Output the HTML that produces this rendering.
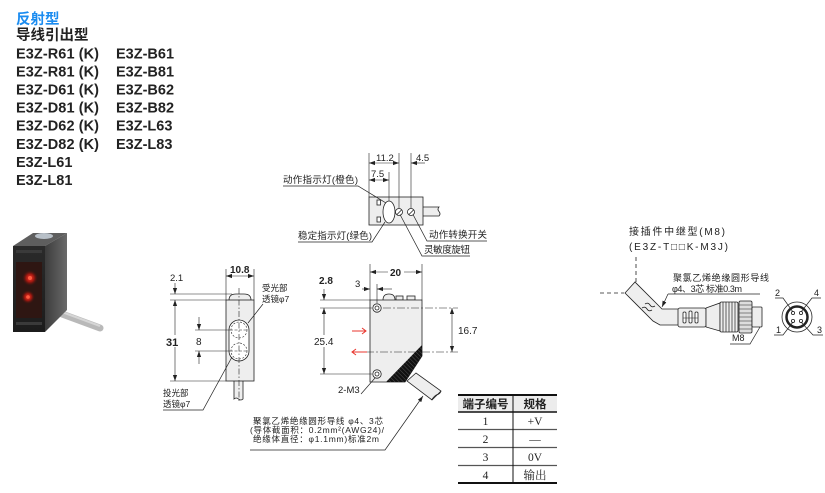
<!DOCTYPE html>
<html><head><meta charset="utf-8">
<style>
html,body{margin:0;padding:0;background:#fff;}
svg{display:block;}
text{font-family:"Liberation Sans","Noto Sans CJK SC",sans-serif;fill:#222;}
.s{font-family:"Liberation Serif","Noto Serif CJK SC",serif;}
</style></head><body>
<svg width="825" height="493" viewBox="0 0 825 493" xmlns="http://www.w3.org/2000/svg">
<defs>
<marker id="a" viewBox="0 0 10 10" refX="10" refY="5" markerWidth="6" markerHeight="6" markerUnits="userSpaceOnUse" orient="auto-start-reverse"><path d="M0,1.5L10,5L0,8.5z" fill="#222"/></marker>
<linearGradient id="side" x1="0" y1="0" x2="1" y2="0"><stop offset="0" stop-color="#3c3c3c"/><stop offset="1" stop-color="#6a6a6a"/></linearGradient>
<linearGradient id="front" x1="0" y1="0" x2="0" y2="1"><stop offset="0" stop-color="#2a2a2a"/><stop offset="1" stop-color="#1c1c1c"/></linearGradient>
<radialGradient id="red1"><stop offset="0" stop-color="#ff3a2a"/><stop offset="0.5" stop-color="#a01810"/><stop offset="1" stop-color="#3a1410" stop-opacity="0"/></radialGradient>
<pattern id="hatch" width="3" height="3" patternUnits="userSpaceOnUse" patternTransform="rotate(-45)"><rect width="3" height="3" fill="#111"/><line x1="0" y1="0" x2="0" y2="3" stroke="#777" stroke-width="0.6"/></pattern>
</defs>

<!-- Titles -->
<text x="16" y="24" font-size="14.5" font-weight="bold" fill="#1b8cf0" style="fill:#1b8cf0">反射型</text>
<text x="16" y="40" font-size="14.5" font-weight="bold">导线引出型</text>
<g font-size="14.5" font-weight="bold">
<text x="16" y="58.3" textLength="83">E3Z-R61 (K)</text>
<text x="16" y="76.4" textLength="83">E3Z-R81 (K)</text>
<text x="16" y="94.5" textLength="83">E3Z-D61 (K)</text>
<text x="16" y="112.6" textLength="83">E3Z-D81 (K)</text>
<text x="16" y="130.7" textLength="83">E3Z-D62 (K)</text>
<text x="16" y="148.8" textLength="83">E3Z-D82 (K)</text>
<text x="16" y="166.9">E3Z-L61</text>
<text x="16" y="185">E3Z-L81</text>
<text x="116" y="58.3">E3Z-B61</text>
<text x="116" y="76.4">E3Z-B81</text>
<text x="116" y="94.5">E3Z-B62</text>
<text x="116" y="112.6">E3Z-B82</text>
<text x="116" y="130.7">E3Z-L63</text>
<text x="116" y="148.8">E3Z-L83</text>
</g>

<!-- Photo -->
<g>
<line x1="62" y1="314" x2="100" y2="328" stroke="#b9b9b9" stroke-width="7" stroke-linecap="round"/>
<line x1="62" y1="312" x2="100" y2="326" stroke="#d6d6d6" stroke-width="2"/>
<polygon points="13,246 33,233 67,233 45,246" fill="#5e5e5e"/>
<ellipse cx="44" cy="236" rx="9" ry="3" fill="#b8c0c8"/>
<polygon points="45,246 67,233 67,310 45,332" fill="url(#side)"/>
<rect x="13" y="246" width="32" height="86" fill="url(#front)"/>
<rect x="16" y="262" width="26" height="56" fill="#2e1612"/>
<circle cx="30" cy="278" r="8" fill="url(#red1)"/>
<circle cx="28" cy="297" r="7" fill="url(#red1)"/>
<circle cx="30" cy="278" r="2" fill="#ff5a40"/>
<circle cx="28" cy="297" r="1.8" fill="#ff5a40"/>
<rect x="16" y="250" width="26" height="3" fill="#3a3a3a"/>
<rect x="16" y="322" width="26" height="3" fill="#3a3a3a"/>
</g>

<g stroke="#222" stroke-width="0.8" fill="none">
<!-- ===== Top view ===== -->
<path d="M423,207H439q-2,2.25 0,4.5t0,4.5H423" fill="#eee"/>
<rect x="369" y="197" width="54" height="28" fill="#eee"/>
<ellipse cx="389" cy="212" rx="6" ry="11" fill="#fff"/>
<rect x="377" y="200" width="3.5" height="5" fill="#fff"/>
<rect x="377" y="217" width="3.5" height="5" fill="#fff"/>
<circle cx="399" cy="212" r="3.5" fill="#fff"/>
<line x1="397" y1="214.5" x2="401.5" y2="210"/>
<circle cx="411" cy="212" r="3.5" fill="#fff"/>
<line x1="409" y1="214.5" x2="413.5" y2="210"/>
<line x1="369" y1="153" x2="369" y2="197" stroke-width="0.6"/>
<line x1="389" y1="172" x2="389" y2="201" stroke-width="0.6"/>
<line x1="399" y1="153" x2="399" y2="208" stroke-width="0.6"/>
<line x1="411" y1="153" x2="411" y2="208" stroke-width="0.6"/>
<line x1="369" y1="163" x2="399" y2="163" stroke-width="0.6" marker-start="url(#a)" marker-end="url(#a)"/>
<line x1="425" y1="163" x2="411" y2="163" stroke-width="0.6" marker-end="url(#a)"/>
<line x1="369" y1="180" x2="389" y2="180" stroke-width="0.6" marker-start="url(#a)" marker-end="url(#a)"/>
<polyline points="283,186 358,186 386,203" stroke-width="0.7"/>
<polyline points="298,242 372,242 385,222" stroke-width="0.7"/>
<polyline points="413,214.5 427,241 487,241" stroke-width="0.7"/>
<polyline points="400,214.5 422,256 470,256" stroke-width="0.7"/>

<!-- ===== Front view ===== -->
<path d="M234,381V399q2.25,-2 4.5,0t4.5,0V381" fill="#eee"/>
<path d="M229,300Q229,294 236,294H244Q251,294 251,300" fill="#eee"/>
<rect x="226" y="300" width="28" height="81" fill="#eee"/>
<rect x="229" y="320" width="20" height="41" rx="10" fill="#fff"/>
<circle cx="239" cy="330" r="8" stroke-dasharray="2,1.5" stroke-width="0.6"/>
<circle cx="239" cy="351" r="8" stroke-dasharray="2,1.5" stroke-width="0.6"/>
<line x1="239" y1="288" x2="239" y2="402" stroke-width="0.6" stroke-dasharray="6,2,1.5,2"/>
<line x1="195" y1="330" x2="230" y2="330" stroke-width="0.6"/>
<line x1="195" y1="351" x2="230" y2="351" stroke-width="0.6"/>
<line x1="230" y1="330" x2="248" y2="330" stroke-width="0.6" stroke-dasharray="3,1.5"/>
<line x1="230" y1="351" x2="248" y2="351" stroke-width="0.6" stroke-dasharray="3,1.5"/>
<line x1="199" y1="317" x2="199" y2="330" stroke-width="0.6" marker-end="url(#a)"/>
<line x1="199" y1="364" x2="199" y2="351" stroke-width="0.6" marker-end="url(#a)"/>
<line x1="226" y1="269" x2="226" y2="300" stroke-width="0.6"/>
<line x1="254" y1="269" x2="254" y2="300" stroke-width="0.6"/>
<line x1="226" y1="276" x2="254" y2="276" stroke-width="0.6" marker-start="url(#a)" marker-end="url(#a)"/>
<line x1="170" y1="294" x2="232" y2="294" stroke-width="0.6"/>
<line x1="170" y1="300" x2="226" y2="300" stroke-width="0.6"/>
<line x1="170" y1="381" x2="226" y2="381" stroke-width="0.6"/>
<line x1="175" y1="283" x2="175" y2="294" stroke-width="0.6" marker-end="url(#a)"/>
<line x1="175" y1="300" x2="175" y2="381" stroke-width="0.6" marker-start="url(#a)" marker-end="url(#a)"/>
<line x1="263" y1="304" x2="248" y2="323" stroke-width="0.7"/>
<polyline points="163,410 203,410 232,357" stroke-width="0.7"/>

<!-- ===== Side view ===== -->
<polygon points="407,381 416,373 441,391 432,400" fill="#eee"/>
<path d="M441,391q-1,3 -3.5,3.5t-6,5.5" fill="none"/>
<path d="M383,300Q383,294 389,294Q395,294 395,300" fill="#eee"/>
<rect x="396" y="296" width="7" height="4" fill="#eee"/>
<rect x="407" y="296" width="8" height="4" fill="#eee"/>
<polygon points="370,300 422,300 422,356 405,382 370,382" fill="#eee"/>
<polygon points="422,345 422,356 405,382 386,382" fill="url(#hatch)" stroke="none"/>
<circle cx="377" cy="308" r="4.2" fill="#fff"/>
<circle cx="377" cy="308" r="2" fill="#fff"/>
<circle cx="377" cy="374" r="4.2" fill="#fff"/>
<circle cx="377" cy="374" r="2" fill="#fff"/>
<line x1="370" y1="264" x2="370" y2="300" stroke-width="0.6"/>
<line x1="422" y1="264" x2="422" y2="300" stroke-width="0.6"/>
<line x1="370" y1="272" x2="422" y2="272" stroke-width="0.6" marker-start="url(#a)" marker-end="url(#a)"/>
<line x1="377" y1="284" x2="377" y2="303" stroke-width="0.6"/>
<line x1="362" y1="289" x2="370" y2="289" stroke-width="0.6" marker-end="url(#a)"/>
<line x1="392" y1="289" x2="377" y2="289" stroke-width="0.6" marker-end="url(#a)"/>
<line x1="320" y1="300" x2="370" y2="300" stroke-width="0.6"/>
<line x1="320" y1="308" x2="372" y2="308" stroke-width="0.6"/>
<line x1="383" y1="308" x2="458" y2="308" stroke-width="0.6" stroke-dasharray="8,2,2,2"/>
<line x1="320" y1="374" x2="372" y2="374" stroke-width="0.6"/>
<line x1="324" y1="289" x2="324" y2="300" stroke-width="0.6" marker-end="url(#a)"/>
<line x1="324" y1="308" x2="324" y2="374" stroke-width="0.6" marker-start="url(#a)" marker-end="url(#a)"/>
<line x1="352" y1="352" x2="458" y2="352" stroke-width="0.6" stroke-dasharray="8,2,2,2"/>
<line x1="452" y1="308" x2="452" y2="352" stroke-width="0.6" marker-start="url(#a)" marker-end="url(#a)"/>
<line x1="361" y1="394" x2="375" y2="378" stroke-width="0.7"/>
<polyline points="250,450 385,450 423,396" stroke-width="0.7" marker-end="url(#a)"/>
</g>
<!-- red arrows -->
<g stroke="#e8342c" stroke-width="1" fill="none">
<line x1="352" y1="331" x2="366" y2="331"/>
<polyline points="362,328 366,331 362,334"/>
<line x1="367" y1="352" x2="352" y2="352"/>
<polyline points="356,349 352,352 356,355"/>
</g>

<!-- Top view labels -->
<g font-size="9.5">
<text x="376" y="161" font-size="9.5">11.2</text>
<text x="416" y="161" font-size="9.5">4.5</text>
<text x="371" y="177" font-size="9.5">7.5</text>
<text x="283" y="183" textLength="75">动作指示灯(橙色)</text>
<text x="298" y="239" textLength="74">稳定指示灯(绿色)</text>
<text x="429" y="238" textLength="58">动作转换开关</text>
<text x="424" y="253" textLength="46">灵敏度旋钮</text>
</g>

<!-- Front view labels -->
<text x="230" y="273" font-size="10" font-weight="bold">10.8</text>
<text x="170" y="281" font-size="9.5">2.1</text>
<rect x="166" y="335" width="15" height="12" fill="#fff"/>
<text x="166" y="346" font-size="11" font-weight="bold">31</text>
<text x="196" y="345" font-size="10">8</text>
<g font-size="8.5">
<text x="262" y="291">受光部</text>
<text x="262" y="302">透镜φ7</text>
<text x="163" y="396">投光部</text>
<text x="163" y="407">透镜φ7</text>
</g>

<!-- Side view labels -->
<rect x="388" y="266" width="16" height="11" fill="#fff"/>
<text x="390" y="276" font-size="10" font-weight="bold">20</text>
<text x="355" y="287" font-size="9.5">3</text>
<text x="319" y="284" font-size="10" font-weight="bold">2.8</text>
<rect x="314" y="335" width="21" height="12" fill="#fff"/>
<text x="314" y="345" font-size="10">25.4</text>
<text x="458" y="334" font-size="10">16.7</text>
<text x="338" y="393" font-size="9.5">2-M3</text>

<!-- Wire description -->
<g font-size="8.5">
<text x="253" y="424" textLength="130">聚氯乙烯绝缘圆形导线 φ4、3芯</text>
<text x="250" y="433" textLength="134">(导体截面积：0.2mm²(AWG24)/</text>
<text x="253" y="442" textLength="126">绝缘体直径：φ1.1mm)标准2m</text>
</g>

<!-- Table -->
<rect x="458" y="395" width="99" height="17" fill="#ececec"/>
<g stroke="#111">
<line x1="458" y1="395" x2="557" y2="395" stroke-width="2"/>
<line x1="458" y1="412" x2="557" y2="412" stroke-width="1.5"/>
<line x1="458" y1="429.5" x2="557" y2="429.5" stroke-width="1.2" stroke="#555"/>
<line x1="458" y1="447.5" x2="557" y2="447.5" stroke-width="1.2" stroke="#555"/>
<line x1="458" y1="465.5" x2="557" y2="465.5" stroke-width="1.2" stroke="#555"/>
<line x1="458" y1="483" x2="557" y2="483" stroke-width="2"/>
<line x1="513" y1="395" x2="513" y2="483" stroke-width="1"/>
</g>
<g text-anchor="middle">
<text x="485.5" y="408" font-size="11.5" font-weight="bold">端子编号</text>
<text x="535" y="408" font-size="11.5" font-weight="bold">规格</text>
<g class="s" font-size="11.5">
<text class="s" x="485.5" y="425">1</text>
<text class="s" x="535" y="425">+V</text>
<text class="s" x="485.5" y="443">2</text>
<text class="s" x="535" y="443">—</text>
<text class="s" x="485.5" y="461">3</text>
<text class="s" x="535" y="461">0V</text>
<text class="s" x="485.5" y="479">4</text>
<text class="s" x="535" y="479">输出</text>
</g>
</g>

<!-- Connector relay type -->
<text x="629" y="235" font-size="10" textLength="96">接插件中继型(M8)</text>
<text x="629" y="250" font-size="10" textLength="99">(E3Z-T□□K-M3J)</text>
<text x="673" y="281" font-size="9" textLength="96">聚氯乙烯绝缘圆形导线</text>
<text x="672" y="292" font-size="9" textLength="70">φ4、3芯 标准0.3m</text>
<text x="732" y="341" font-size="9">M8</text>
<text x="775" y="296" font-size="9">2</text>
<text x="814" y="296" font-size="9">4</text>
<text x="776" y="333" font-size="9">1</text>
<text x="817" y="333" font-size="9">3</text>

<g stroke="#222" stroke-width="0.8" fill="none">
<line x1="636" y1="257" x2="636" y2="282" stroke-dasharray="4,3"/>
<line x1="600" y1="293" x2="624" y2="293" stroke-dasharray="4,3"/>
<polygon points="625,293 635,282 662,309 680,309 680,325 660,325 653,321" fill="#eee"/>
<path d="M645,304q3,-2 5,1t5,1" />
<path d="M642,308q3,-2 5,1t5,1" />
<polyline points="668,294 760,294" stroke-width="0.7"/>
<line x1="668" y1="294" x2="662" y2="307" stroke-width="0.7" marker-end="url(#a)"/>
<rect x="678" y="308" width="28" height="19" rx="2" fill="#eee"/>
<rect x="683" y="312" width="3" height="11" rx="1.2" fill="#fff"/>
<rect x="689" y="311" width="3" height="12" rx="1.2" fill="#fff"/>
<rect x="695" y="312" width="3" height="11" rx="1.2" fill="#fff"/>
<line x1="683" y1="318" x2="698" y2="318" stroke-width="0.5"/>
<polygon points="706,308 720,303 720,331 706,327" fill="#eee"/>
<rect x="720" y="302" width="18" height="30" rx="1.5" fill="#eee"/>
<path d="M723,302V332M726,302V332M729,302V332M732,302V332M735,302V332" stroke-width="0.7"/>
<rect x="739" y="301" width="13" height="32" rx="1.5" fill="#ddd"/>
<path d="M739,305H752M739,309H752M739,313H752M739,317H752M739,321H752M739,325H752M739,329H752" stroke-width="0.6"/>
<rect x="752" y="307" width="10" height="20" rx="1" fill="#eee"/>
<polyline points="730,344 750,344 760,327" stroke-width="0.7"/>
<circle cx="797" cy="317" r="15" fill="#fff"/>
<circle cx="797" cy="317" r="10.5" stroke-width="2.5" fill="#fff"/>
<circle cx="793" cy="313" r="1.6"/>
<circle cx="801" cy="313" r="1.6"/>
<circle cx="793" cy="321" r="1.6"/>
<circle cx="801" cy="321" r="1.6"/>
<polyline points="775,298 783,298 793,312" stroke-width="0.7"/>
<polyline points="821,298 812,298 801,312" stroke-width="0.7"/>
<polyline points="774,335 783,335 793,322" stroke-width="0.7"/>
<polyline points="823,335 813,335 801,322" stroke-width="0.7"/>
</g>
</svg>
</body></html>
